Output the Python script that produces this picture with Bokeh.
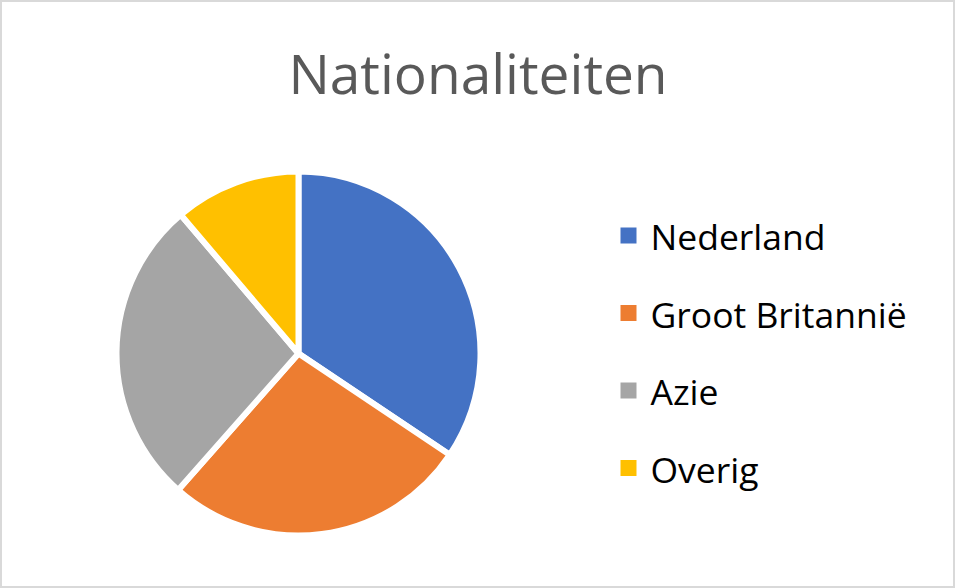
import math
from bokeh.plotting import figure
from bokeh.models import ColumnDataSource, Range1d
from bokeh.core.properties import value
from bokeh.embed import file_html
from bokeh.resources import INLINE

# ---- data ----
categories = ["Nederland", "Groot Britannië", "Azie", "Overig"]
shares = [34.4, 27.1, 27.3, 11.2]
colors = ["#4472C4", "#ED7D31", "#A5A5A5", "#FFC000"]
title_text = "Nationaliteiten"

# ---- layout (figure pixels) ----
W, H = 955, 588
def fx(px):
    return px
def fy(py):
    return H - py

cx, cy = fx(298), fy(353)
R = 182

total = sum(shares)
starts, ends = [], []
acc = 0.0
for s in shares:
    a0 = math.pi / 2 - 2 * math.pi * acc / total
    acc += s
    a1 = math.pi / 2 - 2 * math.pi * acc / total
    starts.append(a0)
    ends.append(a1)

src = ColumnDataSource(dict(cat=categories, share=shares, color=colors,
                            start=starts, end=ends,
                            x=[cx] * len(shares), y=[cy] * len(shares)))

p = figure(width=W, height=H, output_backend="svg", toolbar_location=None,
           x_range=Range1d(0, W), y_range=Range1d(0, H), min_border=0,
           background_fill_color="white", border_fill_color="white")
p.axis.visible = False
p.grid.visible = False
p.outline_line_color = "#D9D9D9"
p.outline_line_width = 3

p.wedge(x="x", y="y", radius=R, radius_units="screen",
        start_angle="start", end_angle="end", direction="clock",
        fill_color="color", line_color="white", line_width=6, source=src)

# title (Bokeh's alphabetic baseline sits ~0.38em lower; compensate)
TITLE_SIZE = 55
p.text(x=[fx(477.5)], y=[fy(93 - 0.38 * TITLE_SIZE)], text=[title_text],
       text_font=value("Open Sans"), text_font_size=f"{TITLE_SIZE}px",
       text_color="#595959", text_align="center", text_baseline="alphabetic")

# legend
LEG_SIZE = 35.5
leg_sq_x = fx(628)
leg_text_x = fx(650)
leg_top_baseline = 249
leg_step = 77.5
n = len(categories)
lsrc = ColumnDataSource(dict(
    cat=categories, color=colors,
    sx=[leg_sq_x] * n,
    sy=[fy(leg_top_baseline - 14 + i * leg_step) for i in range(n)],
    tx=[leg_text_x] * n,
    ty=[fy(leg_top_baseline - 0.38 * LEG_SIZE + i * leg_step) for i in range(n)],
))
p.rect(x="sx", y="sy", width=16, height=16, width_units="screen",
       height_units="screen", fill_color="color", line_color=None, source=lsrc)
p.text(x="tx", y="ty", text="cat", source=lsrc,
       text_font=value("Open Sans"), text_font_size=f"{LEG_SIZE}px",
       text_color="#000000", text_align="left", text_baseline="alphabetic")

open("out.html", "w").write(file_html(p, INLINE))
